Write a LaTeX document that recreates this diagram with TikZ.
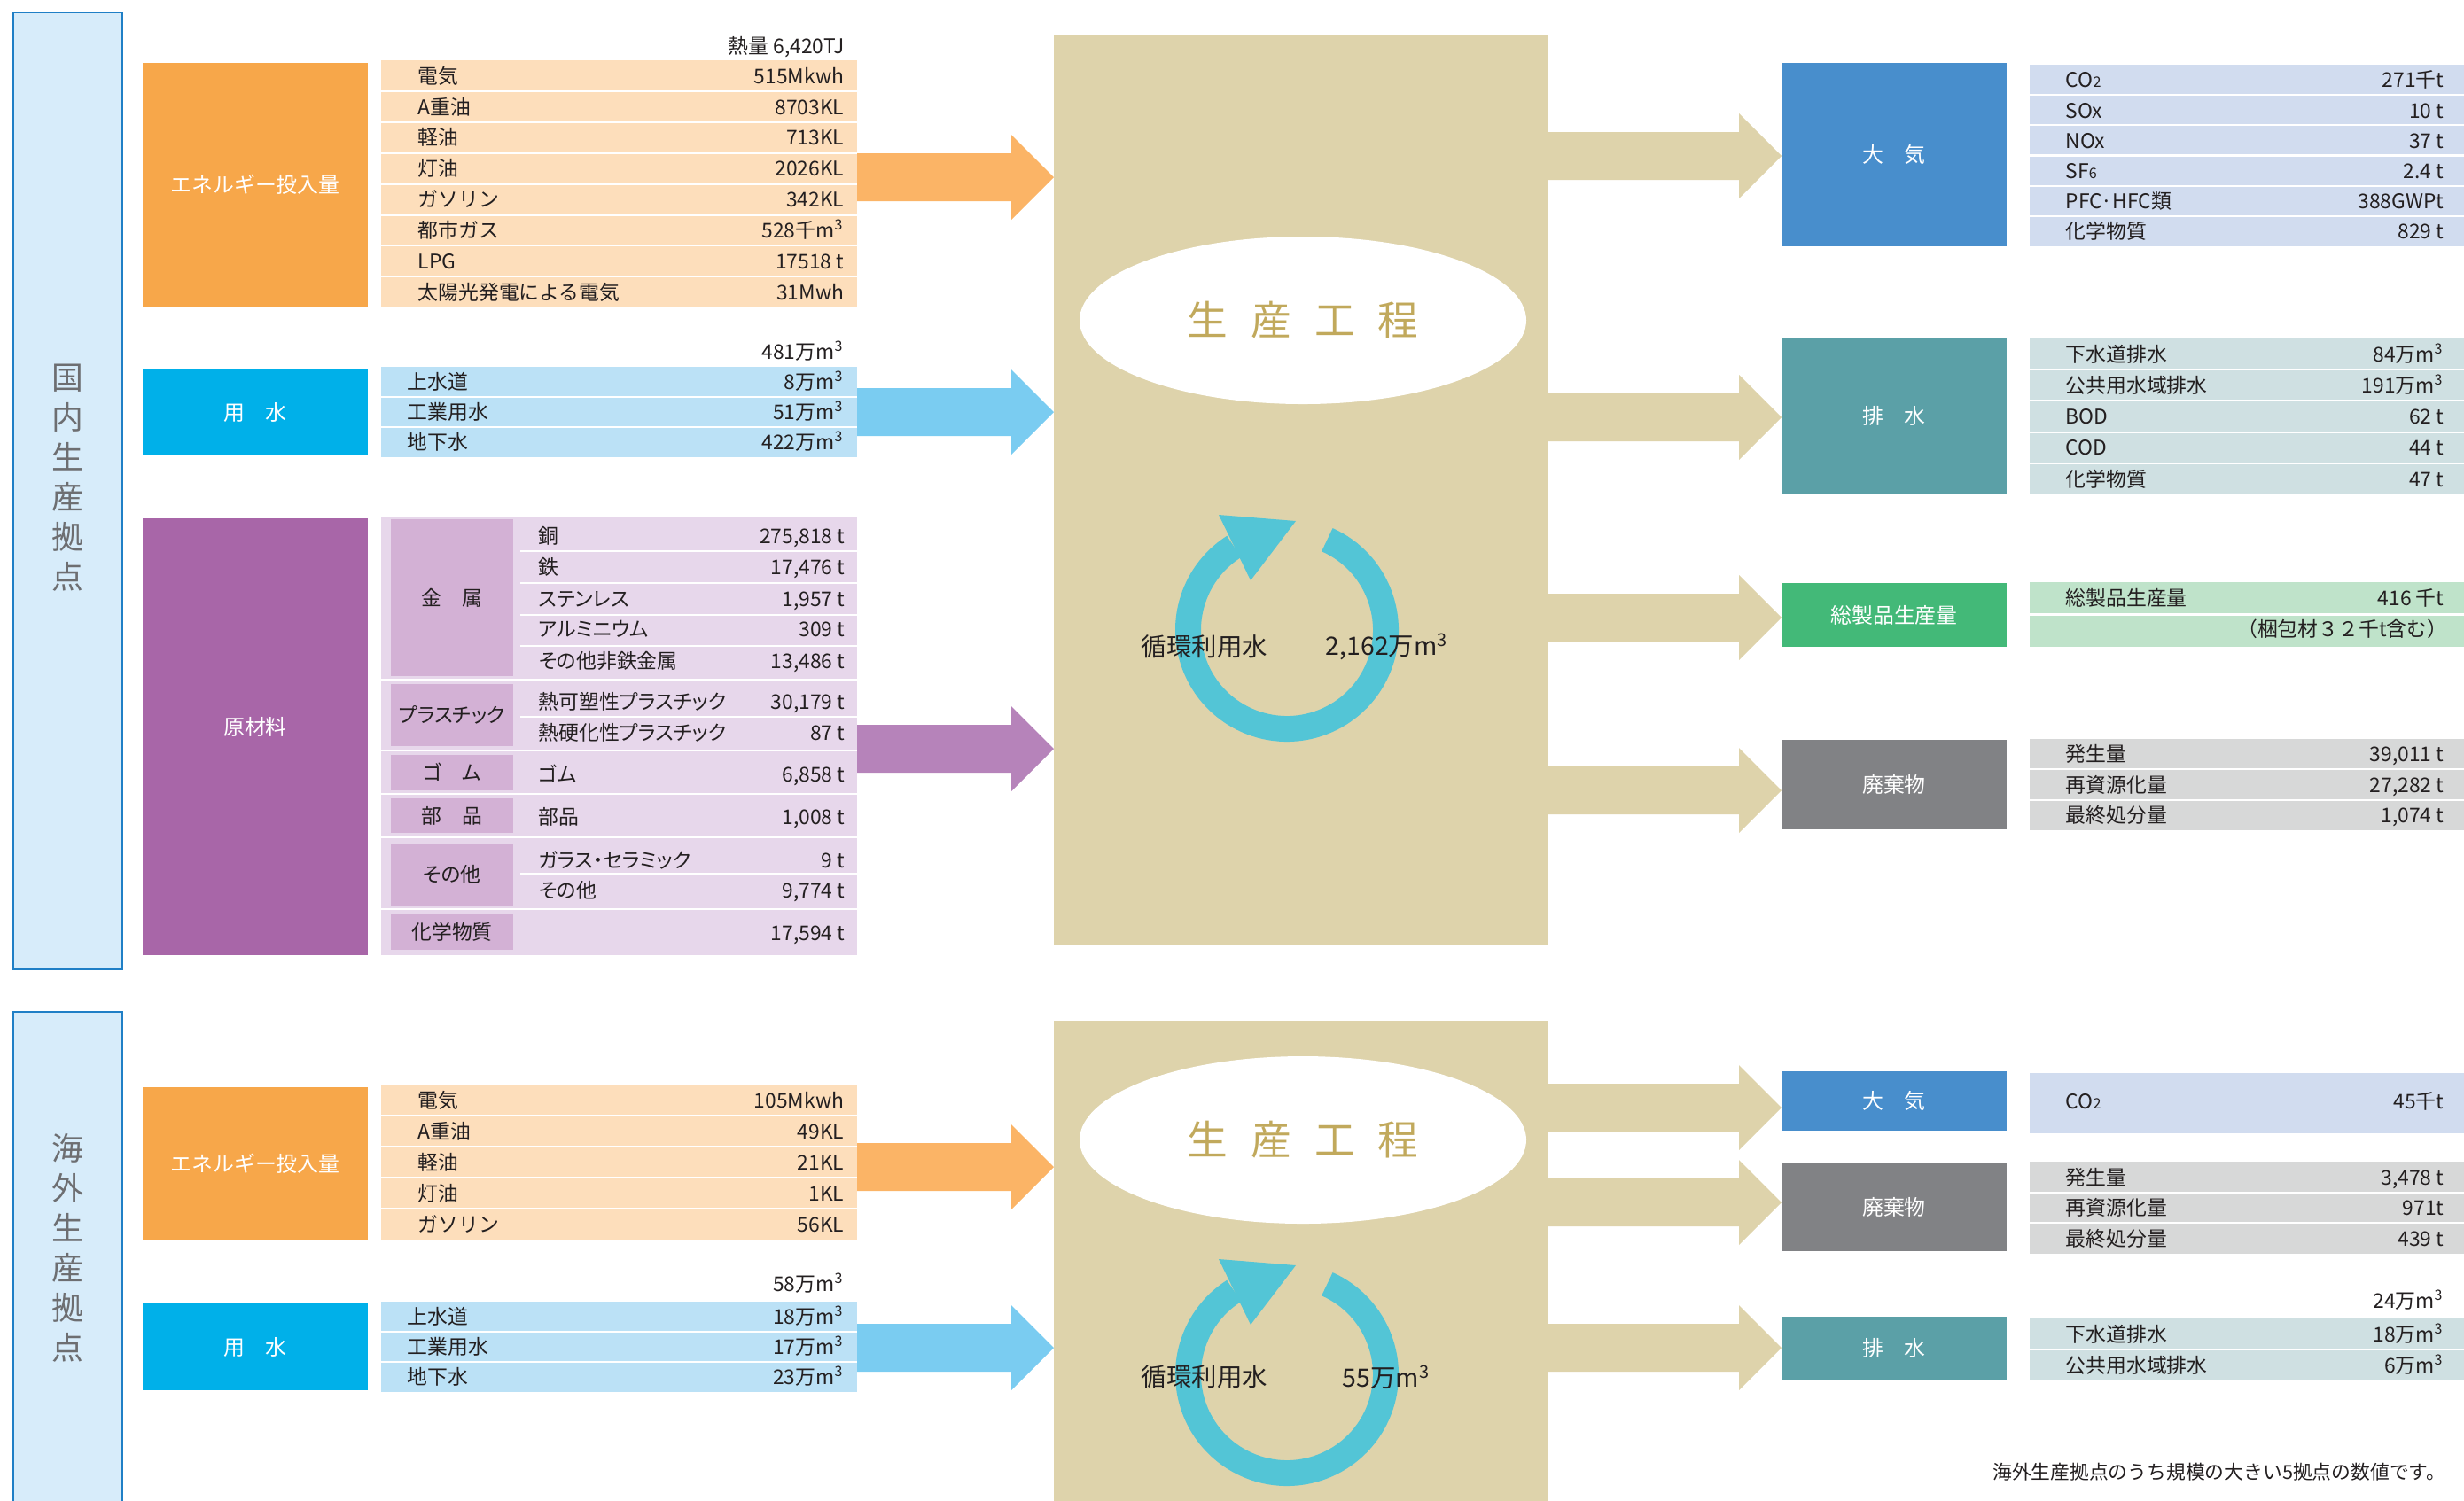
\documentclass[tikz,border=0pt]{standalone}
\usepackage{fontspec}
\setmainfont{Noto Sans CJK JP}
\newfontfamily\pfont[RawFeature=+palt]{Noto Sans CJK JP}
\usetikzlibrary{arrows.meta,shapes.geometric,calc,fit}

\definecolor{panelbg}{HTML}{D7ECFA}
\definecolor{panelbd}{HTML}{1F7FC6}
\definecolor{vtext}{HTML}{6D6E71}
\definecolor{enL}{HTML}{F7A74A}
\definecolor{enT}{HTML}{FDDEBB}
\definecolor{enA}{HTML}{FBB466}
\definecolor{waL}{HTML}{00B0E9}
\definecolor{waT}{HTML}{BBE1F6}
\definecolor{waA}{HTML}{7ACCF1}
\definecolor{maL}{HTML}{A866A8}
\definecolor{maT}{HTML}{E7D7EB}
\definecolor{maC}{HTML}{D3B1D5}
\definecolor{maA}{HTML}{B683BA}
\definecolor{prodc}{HTML}{DED3AB}
\definecolor{gold}{HTML}{C1A95C}
\definecolor{cyc}{HTML}{53C5D6}
\definecolor{airL}{HTML}{488ECC}
\definecolor{airT}{HTML}{D1DCEF}
\definecolor{drL}{HTML}{5BA0A7}
\definecolor{drT}{HTML}{CFE0E2}
\definecolor{gpL}{HTML}{43B978}
\definecolor{gpT}{HTML}{BFE3CA}
\definecolor{wsL}{HTML}{818285}
\definecolor{wsT}{HTML}{D7D8D8}
\definecolor{ink}{HTML}{231F20}

\newcommand\tabfont{\fontsize{6.5pt}{7pt}\selectfont}
\newcommand\boxfont{\fontsize{6.8pt}{7pt}\selectfont}
\newcommand\sub[1]{{\fontsize{4.6pt}{5pt}\selectfont #1}}
\newcommand\mcube{m\textsuperscript{3}}

\tikzset{
  area/.style={inner sep=0pt, outer sep=0pt, draw=none},
  lblt/.style={inner sep=0pt, text=white, font=\boxfont, text height=5.98pt, text depth=0.82pt},
  catt/.style={inner sep=0pt, text=ink, font=\tabfont\pfont, text height=5.72pt, text depth=0.78pt},
  lab/.style={anchor=west, inner sep=0pt, font=\tabfont, text=ink, text height=5.72pt, text depth=0.78pt},
  val/.style={anchor=east, inner sep=0pt, font=\tabfont, text=ink, text height=5.72pt, text depth=0.78pt},
  sepline/.style={white, line width=0.6pt},
  vt/.style={align=center, text=vtext, font=\fontsize{10.2pt}{12.8pt}\selectfont, inner sep=0pt},
  ring/.style={cyc, line width=2.9mm},
}

% #1 name, #2 label x, #3 value x, #4 y, #5 label, #6 value
\newcommand\rowtext[6]{\node[lab] (#1a) at (#2,#4) {#5}; \node[val] (#1b) at (#3,#4) {#6};}
\newcommand\prowtext[6]{\node[lab, font=\tabfont\pfont] (#1a) at (#2,#4) {#5}; \node[val] (#1b) at (#3,#4) {#6};}
% #1 from anchor, #2 to anchor, #3 y, #4 colour
\newcommand\fatarrow[4]{%
  \fill[#4] let \p1=(#1), \p2=(#2) in
    (\x1,#3cm+2.7mm) -- (\x2-4.8mm,#3cm+2.7mm) -- (\x2-4.8mm,#3cm+4.8mm) --
    (\x2,#3cm) -- (\x2-4.8mm,#3cm-4.8mm) -- (\x2-4.8mm,#3cm-2.7mm) --
    (\x1,#3cm-2.7mm) -- cycle;}
% circular arrow around centre #1
\newcommand\cyclearrow[1]{%
  \draw[ring] ($(#1)+(66:1.115)$) arc[start angle=66, end angle=-237.6, radius=1.115];
  \fill[cyc] ($(#1)+(-0.77,1.30)$) -- ($(#1)+(0.10,1.23)$) -- ($(#1)+(-0.41,0.56)$) -- cycle;}

\begin{document}
\begin{tikzpicture}
\useasboundingbox (0,0) rectangle (27.80,-16.93);
\clip (0,0) rectangle (27.80,-16.93);

% ---------- left panels ----------
\node[fit={(0.15,-0.14) (1.38,-10.94)}, inner sep=0pt, fill=panelbg, draw=panelbd, line width=0.6pt] (dom) {};
\node[vt] (domt) at (0.76,-5.39) {国\\内\\生\\産\\拠\\点};
\node[fit={(0.15,-11.42) (1.38,-17.30)}, inner sep=0pt, fill=panelbg, draw=panelbd, line width=0.6pt] (ovs) {};
\node[vt] (ovst) at (0.76,-14.08) {海\\外\\生\\産\\拠\\点};

% ---------- production boxes ----------
\node[fit={(11.89,-0.40) (17.46,-10.67)}, area, fill=prodc] (prod1) {};
\node[fit={(11.89,-11.52) (17.46,-17.30)}, area, fill=prodc] (prod2) {};
\node[ellipse, fill=white, minimum width=5.04cm, minimum height=1.89cm, inner sep=0pt] (ell1) at (14.70,-3.615)
  {\fontsize{13pt}{14pt}\selectfont\color{gold}生\hspace{0.26cm}産\hspace{0.26cm}工\hspace{0.26cm}程};
\node[ellipse, fill=white, minimum width=5.04cm, minimum height=1.89cm, inner sep=0pt] (ell2) at (14.70,-12.865)
  {\fontsize{13pt}{14pt}\selectfont\color{gold}生\hspace{0.26cm}産\hspace{0.26cm}工\hspace{0.26cm}程};
\coordinate (cyc1) at (14.52,-7.11);
\coordinate (cyc2) at (14.52,-15.51);
\cyclearrow{cyc1}
\cyclearrow{cyc2}
\node[anchor=west, inner sep=0pt, text=ink, font=\fontsize{8.1pt}{9pt}\selectfont] (c1a) at (12.87,-7.30) {循環利用水};
\node[anchor=west, inner sep=0pt, text=ink, font=\fontsize{8.1pt}{9pt}\selectfont] (c1b) at (14.95,-7.30) {2,162万\mcube};
\node[anchor=west, inner sep=0pt, text=ink, font=\fontsize{8.1pt}{9pt}\selectfont] (c2a) at (12.87,-15.54) {循環利用水};
\node[anchor=west, inner sep=0pt, text=ink, font=\fontsize{8.1pt}{9pt}\selectfont] (c2b) at (15.14,-15.54) {55万\mcube};

% ---------- domestic: energy ----------
\node[fit={(1.61,-0.71) (4.15,-3.46)}, area, fill=enL] (en1) {};
\node[lblt] (en1l) at (en1.center) {エネルギー投入量};
\node[fit={(4.30,-0.68) (9.67,-3.47)}, area, fill=enT] (en1t) {};
\foreach \y in {-1.029,-1.378,-1.727,-2.076,-2.425,-2.774,-3.123}
  \draw[sepline] (en1t.west |- 0,\y) -- (en1t.east |- 0,\y);
\node[val] (en1h) at (9.53,-0.52) {熱量 6,420TJ};
\rowtext{e11}{4.71}{9.53}{-0.855}{電気}{515Mkwh}
\rowtext{e12}{4.71}{9.53}{-1.203}{A重油}{8703KL}
\rowtext{e13}{4.71}{9.53}{-1.552}{軽油}{713KL}
\rowtext{e14}{4.71}{9.53}{-1.901}{灯油}{2026KL}
\rowtext{e15}{4.71}{9.53}{-2.250}{ガソリン}{342KL}
\rowtext{e16}{4.71}{9.53}{-2.599}{都市ガス}{528千\mcube}
\rowtext{e17}{4.71}{9.53}{-2.948}{LPG}{17518 t}
\rowtext{e18}{4.71}{9.53}{-3.296}{太陽光発電による電気}{31Mwh}

% ---------- domestic: water ----------
\node[fit={(1.61,-4.17) (4.15,-5.14)}, area, fill=waL] (wa1) {};
\node[lblt] (wa1l) at (wa1.center) {用　水};
\node[fit={(4.30,-4.14) (9.67,-5.16)}, area, fill=waT] (wa1t) {};
\foreach \y in {-4.48,-4.82}
  \draw[sepline] (wa1t.west |- 0,\y) -- (wa1t.east |- 0,\y);
\node[val] (wa1h) at (9.53,-3.97) {481万\mcube};
\rowtext{w11}{4.59}{9.53}{-4.31}{上水道}{8万\mcube}
\rowtext{w12}{4.59}{9.53}{-4.65}{工業用水}{51万\mcube}
\rowtext{w13}{4.59}{9.53}{-4.99}{地下水}{422万\mcube}

% ---------- domestic: materials ----------
\node[fit={(1.61,-5.85) (4.15,-10.78)}, area, fill=maL] (ma1) {};
\node[lblt] (ma1l) at (2.88,-8.20) {原材料};
\node[fit={(4.30,-5.84) (9.67,-10.78)}, area, fill=maT] (ma1t) {};
\foreach \y in {-7.67,-8.47,-8.96,-9.45,-10.26}
  \draw[sepline] (ma1t.west |- 0,\y) -- (ma1t.east |- 0,\y);
\foreach \y in {-6.22,-6.58,-6.94,-7.29,-8.09,-9.86}
  \draw[sepline] (5.87,\y) -- (ma1t.east |- 0,\y);
\node[fit={(4.41,-5.86) (5.79,-7.63)}, area, fill=maC] (k1) {};
\node[fit={(4.41,-7.72) (5.79,-8.42)}, area, fill=maC] (k2) {};
\node[fit={(4.41,-8.52) (5.79,-8.92)}, area, fill=maC] (k3) {};
\node[fit={(4.41,-9.01) (5.79,-9.40)}, area, fill=maC] (k4) {};
\node[fit={(4.41,-9.52) (5.79,-10.22)}, area, fill=maC] (k5) {};
\node[fit={(4.41,-10.31) (5.79,-10.72)}, area, fill=maC] (k6) {};
\node[catt] (k1t) at (k1.center) {金　属};
\node[catt] (k2t) at (k2.center) {プラスチック};
\node[catt] (k3t) at (k3.center) {ゴ　ム};
\node[catt] (k4t) at (k4.center) {部　品};
\node[catt] (k5t) at (k5.center) {その他};
\node[catt] (k6t) at (k6.center) {化学物質};
\prowtext{m01}{6.07}{9.54}{-6.05}{銅}{275,818 t}
\prowtext{m02}{6.07}{9.54}{-6.40}{鉄}{17,476 t}
\prowtext{m03}{6.07}{9.54}{-6.76}{ステンレス}{1,957 t}
\prowtext{m04}{6.07}{9.54}{-7.10}{アルミニウム}{309 t}
\prowtext{m05}{6.07}{9.54}{-7.46}{その他非鉄金属}{13,486 t}
\prowtext{m06}{6.07}{9.54}{-7.92}{熱可塑性プラスチック}{30,179 t}
\prowtext{m07}{6.07}{9.54}{-8.27}{熱硬化性プラスチック}{87 t}
\prowtext{m08}{6.07}{9.54}{-8.74}{ゴム}{6,858 t}
\prowtext{m09}{6.07}{9.54}{-9.22}{部品}{1,008 t}
\prowtext{m10}{6.07}{9.54}{-9.71}{ガラス・セラミック}{9 t}
\prowtext{m11}{6.07}{9.54}{-10.05}{その他}{9,774 t}
\node[val] (m12b) at (9.54,-10.53) {17,594 t};

% ---------- overseas: energy ----------
\node[fit={(1.61,-12.27) (4.15,-13.99)}, area, fill=enL] (en2) {};
\node[lblt] (en2l) at (en2.center) {エネルギー投入量};
\node[fit={(4.30,-12.24) (9.67,-13.99)}, area, fill=enT] (en2t) {};
\foreach \y in {-12.59,-12.94,-13.29,-13.64}
  \draw[sepline] (en2t.west |- 0,\y) -- (en2t.east |- 0,\y);
\rowtext{e21}{4.71}{9.53}{-12.415}{電気}{105Mkwh}
\rowtext{e22}{4.71}{9.53}{-12.765}{A重油}{49KL}
\rowtext{e23}{4.71}{9.53}{-13.115}{軽油}{21KL}
\rowtext{e24}{4.71}{9.53}{-13.465}{灯油}{1KL}
\rowtext{e25}{4.71}{9.53}{-13.815}{ガソリン}{56KL}

% ---------- overseas: water ----------
\node[fit={(1.61,-14.71) (4.15,-15.69)}, area, fill=waL] (wa2) {};
\node[lblt] (wa2l) at (wa2.center) {用　水};
\node[fit={(4.30,-14.69) (9.67,-15.71)}, area, fill=waT] (wa2t) {};
\foreach \y in {-15.03,-15.37}
  \draw[sepline] (wa2t.west |- 0,\y) -- (wa2t.east |- 0,\y);
\node[val] (wa2h) at (9.53,-14.49) {58万\mcube};
\rowtext{w21}{4.59}{9.53}{-14.86}{上水道}{18万\mcube}
\rowtext{w22}{4.59}{9.53}{-15.20}{工業用水}{17万\mcube}
\rowtext{w23}{4.59}{9.53}{-15.54}{地下水}{23万\mcube}

% ---------- right side: domestic ----------
\node[fit={(20.10,-0.71) (22.64,-2.78)}, area, fill=airL] (air1) {};
\node[lblt] (air1l) at (air1.center) {大　気};
\node[fit={(22.90,-0.73) (27.85,-2.78)}, area, fill=airT] (air1t) {};
\foreach \y in {-1.072,-1.413,-1.755,-2.097,-2.438}
  \draw[sepline] (air1t.west |- 0,\y) -- (air1t.east |- 0,\y);
\rowtext{a11}{23.30}{27.58}{-0.901}{CO\sub{2}}{271千t}
\rowtext{a12}{23.30}{27.58}{-1.243}{SOx}{10 t}
\rowtext{a13}{23.30}{27.58}{-1.585}{NOx}{37 t}
\rowtext{a14}{23.30}{27.58}{-1.926}{SF\sub{6}}{2.4 t}
\rowtext{a15}{23.30}{27.58}{-2.268}{PFC·HFC類}{388GWPt}
\rowtext{a16}{23.30}{27.58}{-2.610}{化学物質}{829 t}

\node[fit={(20.10,-3.82) (22.64,-5.57)}, area, fill=drL] (dr1) {};
\node[lblt] (dr1l) at (dr1.center) {排　水};
\node[fit={(22.90,-3.82) (27.85,-5.58)}, area, fill=drT] (dr1t) {};
\foreach \y in {-4.172,-4.524,-4.876,-5.228}
  \draw[sepline] (dr1t.west |- 0,\y) -- (dr1t.east |- 0,\y);
\rowtext{d11}{23.30}{27.58}{-3.996}{下水道排水}{84万\mcube}
\rowtext{d12}{23.30}{27.58}{-4.348}{公共用水域排水}{191万\mcube}
\rowtext{d13}{23.30}{27.58}{-4.700}{BOD}{62 t}
\rowtext{d14}{23.30}{27.58}{-5.052}{COD}{44 t}
\rowtext{d15}{23.30}{27.58}{-5.404}{化学物質}{47 t}

\node[fit={(20.10,-6.58) (22.64,-7.30)}, area, fill=gpL] (gp1) {};
\node[lblt] (gp1l) at (gp1.center) {総製品生産量};
\node[fit={(22.90,-6.57) (27.85,-7.30)}, area, fill=gpT] (gp1t) {};
\draw[sepline] (gp1t.west |- 0,-6.935) -- (gp1t.east |- 0,-6.935);
\rowtext{g11}{23.30}{27.58}{-6.75}{総製品生産量}{416 千t}
\node[val] (g12b) at (27.62,-7.10) {（梱包材３２千t含む）};

\node[fit={(20.10,-8.35) (22.64,-9.36)}, area, fill=wsL] (ws1) {};
\node[lblt] (ws1l) at (ws1.center) {廃棄物};
\node[fit={(22.90,-8.34) (27.85,-9.37)}, area, fill=wsT] (ws1t) {};
\foreach \y in {-8.683,-9.027}
  \draw[sepline] (ws1t.west |- 0,\y) -- (ws1t.east |- 0,\y);
\rowtext{s11}{23.30}{27.58}{-8.512}{発生量}{39,011 t}
\rowtext{s12}{23.30}{27.58}{-8.855}{再資源化量}{27,282 t}
\rowtext{s13}{23.30}{27.58}{-9.198}{最終処分量}{1,074 t}

% ---------- right side: overseas ----------
\node[fit={(20.10,-12.09) (22.64,-12.76)}, area, fill=airL] (air2) {};
\node[lblt] (air2l) at (air2.center) {大　気};
\node[fit={(22.90,-12.11) (27.85,-12.79)}, area, fill=airT] (air2t) {};
\rowtext{a21}{23.30}{27.58}{-12.43}{CO\sub{2}}{45千t}

\node[fit={(20.10,-13.12) (22.64,-14.12)}, area, fill=wsL] (ws2) {};
\node[lblt] (ws2l) at (ws2.center) {廃棄物};
\node[fit={(22.90,-13.11) (27.85,-14.15)}, area, fill=wsT] (ws2t) {};
\foreach \y in {-13.457,-13.803}
  \draw[sepline] (ws2t.west |- 0,\y) -- (ws2t.east |- 0,\y);
\rowtext{s21}{23.30}{27.58}{-13.283}{発生量}{3,478 t}
\rowtext{s22}{23.30}{27.58}{-13.630}{再資源化量}{971t}
\rowtext{s23}{23.30}{27.58}{-13.977}{最終処分量}{439 t}

\node[fit={(20.10,-14.86) (22.64,-15.57)}, area, fill=drL] (dr2) {};
\node[lblt] (dr2l) at (dr2.center) {排　水};
\node[fit={(22.90,-14.88) (27.85,-15.58)}, area, fill=drT] (dr2t) {};
\draw[sepline] (dr2t.west |- 0,-15.23) -- (dr2t.east |- 0,-15.23);
\node[val] (dr2h) at (27.58,-14.68) {24万\mcube};
\rowtext{d21}{23.30}{27.58}{-15.055}{下水道排水}{18万\mcube}
\rowtext{d22}{23.30}{27.58}{-15.405}{公共用水域排水}{6万\mcube}

\node[anchor=east, inner sep=0pt, text=ink, font=\fontsize{6.2pt}{7pt}\selectfont] (note) at (27.60,-16.61)
  {海外生産拠点のうち規模の大きい5拠点の数値です。};

% ---------- arrows ----------
\fatarrow{en1t.east}{prod1.west}{-2.00}{enA}
\fatarrow{wa1t.east}{prod1.west}{-4.65}{waA}
\fatarrow{ma1t.east}{prod1.west}{-8.45}{maA}
\fatarrow{en2t.east}{prod2.west}{-13.17}{enA}
\fatarrow{wa2t.east}{prod2.west}{-15.21}{waA}
\fatarrow{prod1.east}{air1.west}{-1.76}{prodc}
\fatarrow{prod1.east}{dr1.west}{-4.71}{prodc}
\fatarrow{prod1.east}{gp1.west}{-6.97}{prodc}
\fatarrow{prod1.east}{ws1.west}{-8.92}{prodc}
\fatarrow{prod2.east}{air2.west}{-12.50}{prodc}
\fatarrow{prod2.east}{ws2.west}{-13.57}{prodc}
\fatarrow{prod2.east}{dr2.west}{-15.21}{prodc}
\end{tikzpicture}
\end{document}
